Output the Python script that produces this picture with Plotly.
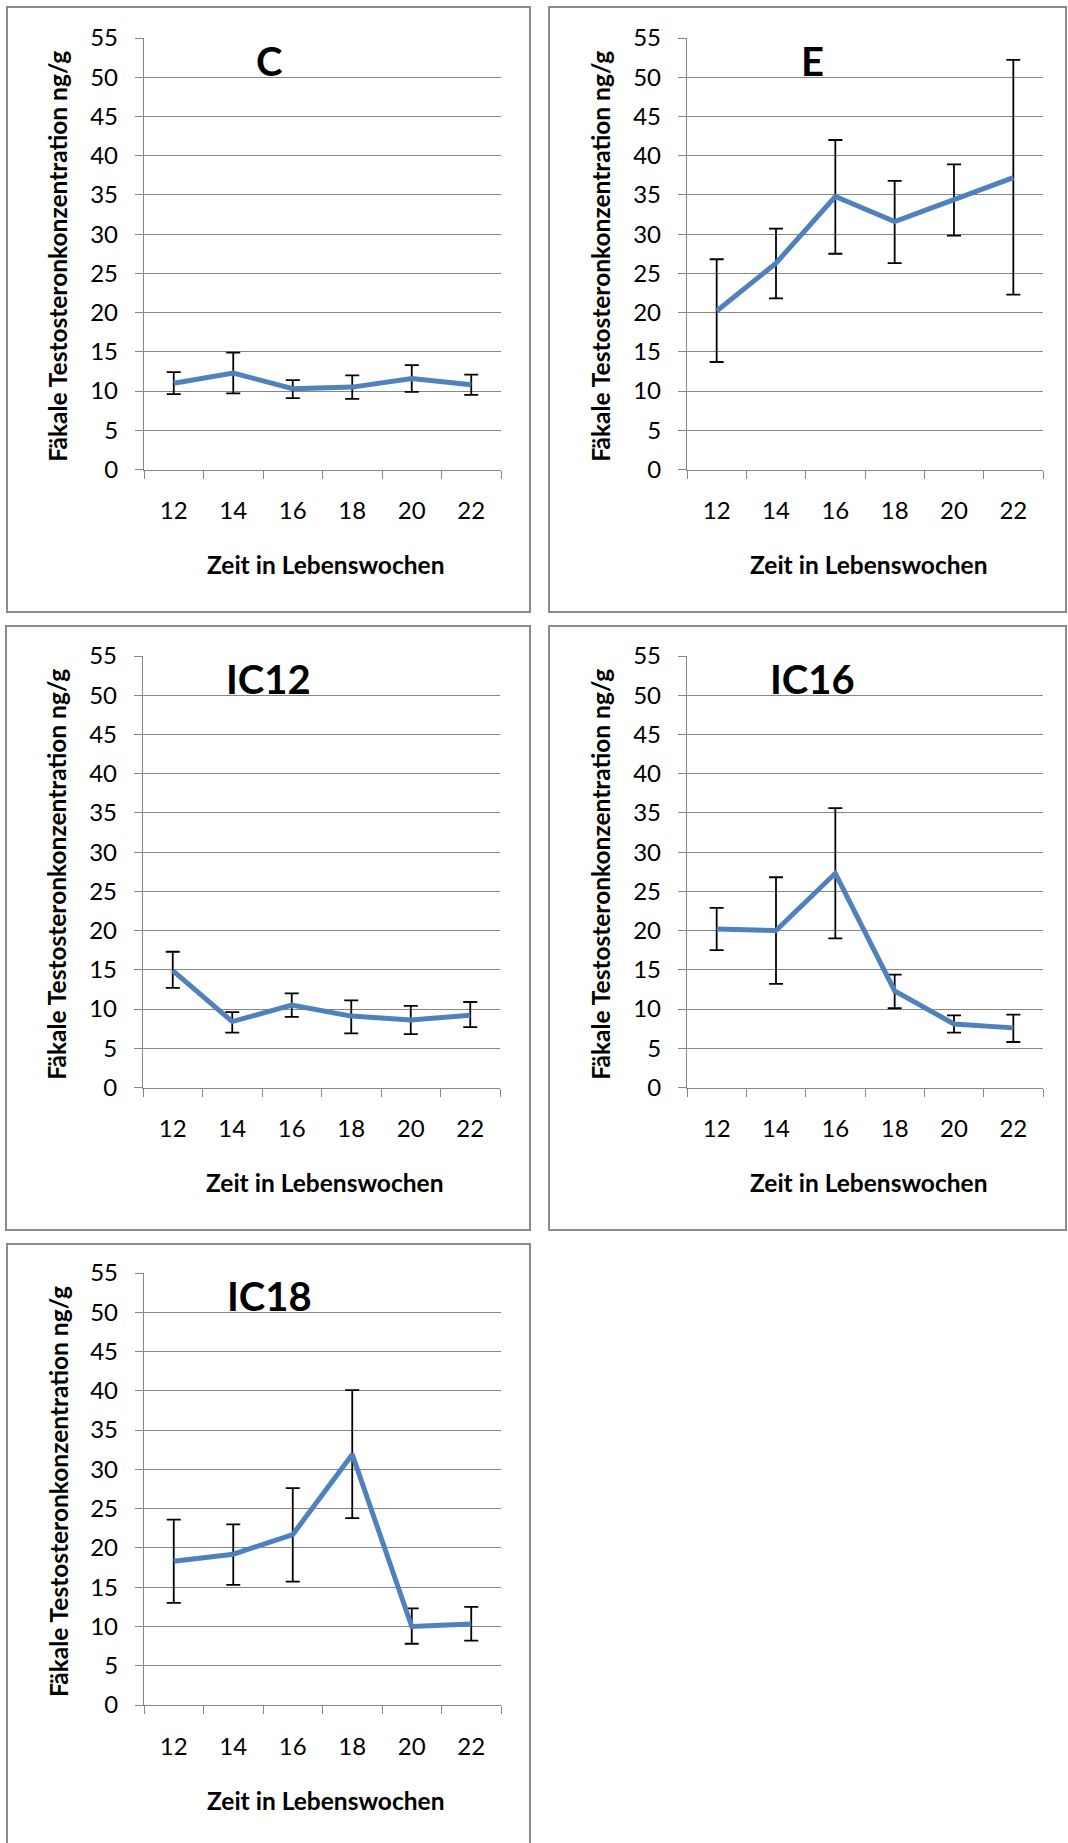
import plotly.graph_objects as go

W, H = 1068, 1843

weeks = ["12", "14", "16", "18", "20", "22"]
y_ticks = [0, 5, 10, 15, 20, 25, 30, 35, 40, 45, 50, 55]

groups = ["C", "E", "IC12", "IC16", "IC18"]

mean_C = [11.0, 12.3, 10.3, 10.5, 11.6, 10.8]
upper_C = [12.4, 14.9, 11.4, 12.0, 13.3, 12.1]
lower_C = [9.6, 9.7, 9.1, 9.0, 9.9, 9.5]

mean_E = [20.2, 26.3, 34.8, 31.6, 34.4, 37.2]
upper_E = [26.8, 30.7, 42.0, 36.8, 38.9, 52.2]
lower_E = [13.7, 21.8, 27.5, 26.3, 29.8, 22.3]

mean_IC12 = [14.9, 8.4, 10.5, 9.1, 8.6, 9.2]
upper_IC12 = [17.3, 9.6, 12.0, 11.1, 10.4, 10.9]
lower_IC12 = [12.7, 7.0, 9.0, 6.9, 6.8, 7.7]

mean_IC16 = [20.2, 20.0, 27.3, 12.3, 8.1, 7.6]
upper_IC16 = [22.9, 26.8, 35.6, 14.4, 9.2, 9.3]
lower_IC16 = [17.5, 13.2, 19.0, 10.1, 7.0, 5.8]

mean_IC18 = [18.3, 19.2, 21.7, 31.9, 10.0, 10.3]
upper_IC18 = [23.6, 23.0, 27.6, 40.1, 12.3, 12.5]
lower_IC18 = [13.0, 15.3, 15.7, 23.8, 7.8, 8.2]

series = {
    "C": (mean_C, upper_C, lower_C),
    "E": (mean_E, upper_E, lower_E),
    "IC12": (mean_IC12, upper_IC12, lower_IC12),
    "IC16": (mean_IC16, upper_IC16, lower_IC16),
    "IC18": (mean_IC18, upper_IC18, lower_IC18),
}

y_title = "Fäkale Testosteronkonzentration ng/g"
x_title = "Zeit in Lebenswochen"

# layout in pixels: frame (x0, y0, x1, y1), plot area (x0, y0, x1, y1)
layout_px = {
    "C": ((7, 7, 530, 612), (144, 38, 501, 469.5)),
    "E": ((549, 7, 1066, 612), (687, 38, 1043, 469.5)),
    "IC12": ((6, 626, 530, 1230), (143, 656, 500, 1087.5)),
    "IC16": ((549, 626, 1066, 1230), (687, 656, 1043, 1087.5)),
    "IC18": ((7, 1244, 530, 1860), (144, 1273, 501, 1705)),
}

FONT = "Lato"
LINE_BLUE = "#4F81BD"
GRID = "#868686"
FRAME = "#8a8a8a"


def px(x):
    return x / W


def py(y):
    return 1 - y / H


fig = go.Figure()
shapes = []
annotations = []

for i, g in enumerate(groups):
    n = "" if i == 0 else str(i + 1)
    frame, plot = layout_px[g]
    mean, up, lo = series[g]
    fig.add_trace(go.Scatter(
        x=weeks, y=mean, mode="lines",
        line=dict(color=LINE_BLUE, width=5),
        error_y=dict(type="data", symmetric=False,
                     array=[u - m for u, m in zip(up, mean)],
                     arrayminus=[m - l for m, l in zip(mean, lo)],
                     color="black", thickness=1.8, width=7),
        xaxis="x" + n, yaxis="y" + n, showlegend=False, hoverinfo="skip",
    ))
    fig.layout["xaxis" + n] = dict(
        type="category", domain=[px(plot[0]), px(plot[2])], anchor="y" + n,
        range=[-0.5, 5.5], tickson="boundaries", ticks="outside", ticklen=8,
        tickcolor=GRID, tickwidth=1.3, showline=True, linecolor=GRID, linewidth=1.3,
        showgrid=False, zeroline=False, fixedrange=True, automargin=False,
        tickfont=dict(family=FONT, size=24, color="black"), ticklabelstandoff=20,
    )
    fig.layout["yaxis" + n] = dict(
        domain=[py(plot[3]), py(plot[1])], anchor="x" + n, range=[0, 55],
        tickvals=y_ticks, ticks="outside", ticklen=8, tickcolor=GRID, tickwidth=1.3,
        showline=True, linecolor=GRID, linewidth=1.3, showgrid=True,
        gridcolor=GRID, gridwidth=1.3, zeroline=False, fixedrange=True, automargin=False,
        tickfont=dict(family=FONT, size=24, color="black"), ticklabelstandoff=12,
    )
    shapes.append(dict(type="rect", xref="paper", yref="paper",
                       x0=px(frame[0]), x1=px(frame[2]), y0=py(frame[3]), y1=py(frame[1]),
                       line=dict(color=FRAME, width=2), layer="below"))
    # panel title
    annotations.append(dict(text="<b>%s</b>" % g, xref="paper", yref="paper",
                            x=px(plot[0] + 125), y=py(plot[1] + 23),
                            xanchor="center", yanchor="middle", showarrow=False,
                            font=dict(family=FONT, size=40, color="black")))
    # y title
    annotations.append(dict(text="<b>%s</b>" % y_title, xref="paper", yref="paper",
                            x=px(plot[0] - 86), y=py((plot[1] + plot[3]) / 2 + 3),
                            xanchor="center", yanchor="middle", textangle=-90,
                            showarrow=False, font=dict(family=FONT, size=24.5, color="black")))
    # x title
    annotations.append(dict(text="<b>%s</b>" % x_title, xref="paper", yref="paper",
                            x=px((plot[0] + plot[2]) / 2 + 3), y=py(plot[3] + 95),
                            xanchor="center", yanchor="middle", showarrow=False,
                            font=dict(family=FONT, size=24.5, color="black")))

fig.update_layout(
    width=W, height=H, margin=dict(l=0, r=0, t=0, b=0, autoexpand=False),
    paper_bgcolor="white", plot_bgcolor="white",
    shapes=shapes, annotations=annotations,
)

fig.write_html("out.html", config={"displayModeBar": False})
